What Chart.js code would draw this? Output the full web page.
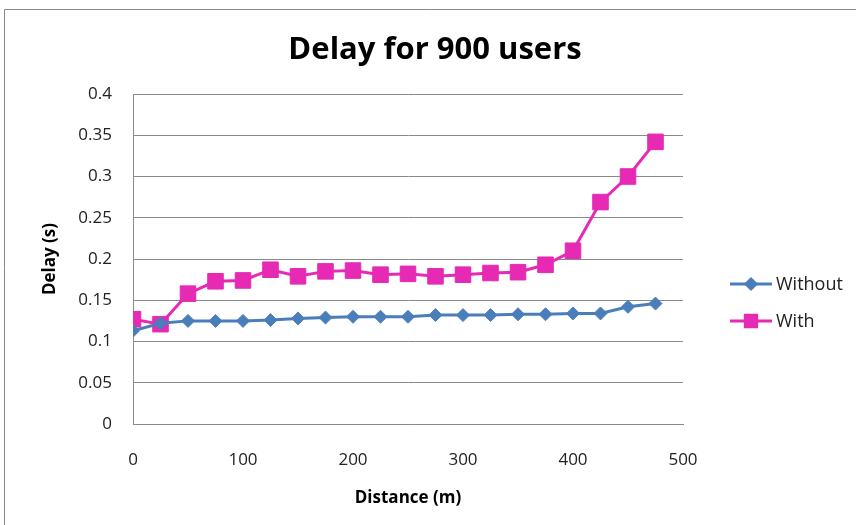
<!DOCTYPE html>
<html>
<head>
<meta charset="utf-8">
<script src="https://cdn.jsdelivr.net/npm/chart.js@4/dist/chart.umd.min.js"></script>
<style>
  html, body { margin: 0; padding: 0; background: #fff; }
  #wrap { width: 856px; height: 525px; }
</style>
</head>
<body>
<div id="wrap"><canvas id="delayChart" width="856" height="525"></canvas></div>
<script>
// date
const distances = [0, 25, 50, 75, 100, 125, 150, 175, 200, 225, 250, 275, 300, 325, 350, 375, 400, 425, 450, 475];
const without = [0.113, 0.122, 0.125, 0.125, 0.125, 0.126, 0.128, 0.129, 0.130, 0.130, 0.130, 0.132, 0.132, 0.132, 0.133, 0.133, 0.134, 0.134, 0.142, 0.146];
const withVals = [0.127, 0.121, 0.158, 0.173, 0.174, 0.187, 0.179, 0.185, 0.186, 0.181, 0.182, 0.179, 0.181, 0.183, 0.184, 0.193, 0.210, 0.269, 0.300, 0.342];
const seriesNames = ['Without', 'With'];
const xTicks = [0, 100, 200, 300, 400, 500];
const yTicks = [0, 0.05, 0.1, 0.15, 0.2, 0.25, 0.3, 0.35, 0.4];
const chartTitle = 'Delay for 900 users';

const blue = '#4a7ebb';
const pink = '#e62ab4';
const font = "'Open Sans', 'Liberation Sans', sans-serif";

function toPoints(vals) {
    return distances.map((d, i) => ({ x: d, y: vals[i] }));
}

// cadru, titlu si legenda desenate manual
const frameAndLegend = {
    id: 'frameAndLegend',
    afterDraw(chart) {
        const ctx = chart.ctx;
        ctx.save();
        ctx.strokeStyle = '#8a8a8a';
        ctx.lineWidth = 1;
        ctx.beginPath();
        ctx.moveTo(4.5, 525);
        ctx.lineTo(4.5, 9.5);
        ctx.lineTo(856, 9.5);
        ctx.stroke();

        ctx.fillStyle = '#000';
        ctx.font = 'bold 31px ' + font;
        ctx.textAlign = 'center';
        ctx.textBaseline = 'alphabetic';
        ctx.fillText(chartTitle, 435, 59);

        const items = [
            { y: 284, color: blue, style: 'rectRot', r: 5 },
            { y: 321, color: pink, style: 'rect', r: 8 }
        ];
        items.forEach((it, i) => {
            ctx.strokeStyle = it.color;
            ctx.lineWidth = 3;
            ctx.beginPath();
            ctx.moveTo(730, it.y);
            ctx.lineTo(772, it.y);
            ctx.stroke();
            ctx.fillStyle = it.color;
            Chart.helpers.drawPoint(ctx, { pointStyle: it.style, radius: it.r, borderWidth: 1 }, 751, it.y);
            ctx.fill();
            ctx.fillStyle = '#222';
            ctx.font = '18px ' + font;
            ctx.textBaseline = 'middle';
            ctx.textAlign = 'left';
            ctx.fillText(seriesNames[i], 776, it.y + 1);
        });
        ctx.restore();
    }
};

new Chart(document.getElementById('delayChart'), {
    type: 'line',
    data: {
        datasets: [{
            label: seriesNames[0],
            data: toPoints(without),
            borderColor: blue,
            backgroundColor: blue,
            borderWidth: 3,
            pointStyle: 'rectRot',
            pointRadius: 6.5,
            pointBorderWidth: 1,
            tension: 0
        }, {
            label: seriesNames[1],
            data: toPoints(withVals),
            borderColor: pink,
            backgroundColor: pink,
            borderWidth: 3,
            pointStyle: 'rect',
            pointRadius: 11,
            pointBorderWidth: 1,
            tension: 0
        }]
    },
    options: {
        responsive: false,
        animation: false,
        layout: { padding: { left: 0, right: 173, top: 94, bottom: 0 } },
        plugins: {
            legend: { display: false },
            tooltip: { enabled: false },
            title: { display: false }
        },
        scales: {
            x: {
                type: 'linear',
                min: 0,
                max: 500,
                afterBuildTicks: axis => { axis.ticks = xTicks.map(v => ({ value: v })); },
                afterFit: axis => { axis.height = 101; },
                grid: { display: false },
                border: { color: '#8a8a8a', width: 1 },
                ticks: { color: '#222', padding: 18, maxRotation: 0, font: { family: font, size: 17 } },
                title: {
                    display: true,
                    text: 'Distance (m)',
                    color: '#000',
                    font: { family: font, size: 17, weight: 'bold' },
                    padding: { bottom: 17 }
                }
            },
            y: {
                min: 0,
                max: 0.4,
                afterBuildTicks: axis => { axis.ticks = yTicks.map(v => ({ value: v })); },
                afterFit: axis => { axis.width = 133; },
                grid: { color: '#8a8a8a', drawTicks: false },
                border: { color: '#8a8a8a', width: 1 },
                ticks: { color: '#222', padding: 21, font: { family: font, size: 17 }, callback: v => String(+v.toFixed(2)) },
                title: {
                    display: true,
                    text: 'Delay (s)',
                    color: '#000',
                    font: { family: font, size: 17, weight: 'bold' },
                    padding: { top: 40 }
                }
            }
        }
    },
    plugins: [frameAndLegend]
});
</script>
</body>
</html>
